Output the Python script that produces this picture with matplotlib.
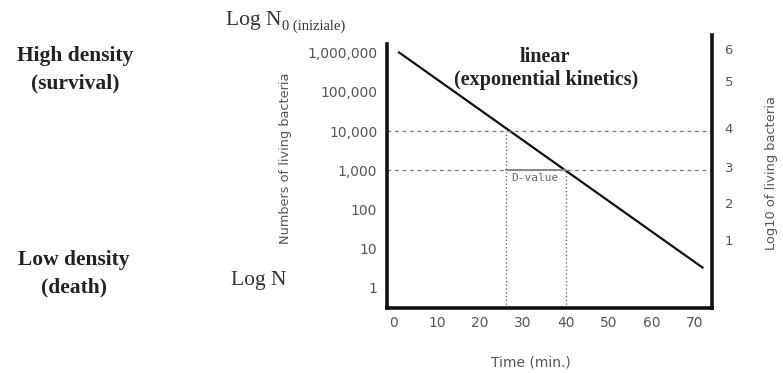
#!/usr/bin/env python3
# Survival curve of bacteria: log count vs heating time, with D-value marked
import numpy as np
import matplotlib
matplotlib.use("Agg")
import matplotlib.pyplot as plt

#------------------------------------------------------------------------------
# data
#------------------------------------------------------------------------------
time_pts = [1, 72]                      # min
count_pts = [1.05e6, 3.2]               # living bacteria
x_ticks = [0, 10, 20, 30, 40, 50, 60, 70]
y_ticks = [1, 10, 100, 1000, 10000, 100000, 1000000]
y_labels = ['1', '10', '100', '1,000', '10,000', '100,000', '1,000,000']
right_tick_pos = [10**1.22, 10**2.17, 10**3.08, 10**4.08, 10**5.28, 10**6.1]   # as drawn
right_labels = ['1', '2', '3', '4', '5', '6']
d_start, d_end = 26, 40                 # time at 10,000 and at 1,000
level_hi, level_lo = 10000, 1000

W, H = 783, 373
fig = plt.figure(figsize=(W/100, H/100), dpi=100)

def px(x, y):
    return x/W, 1 - y/H

ax = fig.add_axes([387/W, 1 - 308/H, (712-387)/W, (308-35)/H])
ax.set_yscale('log')
ax.set_xlim(-1.6, 74)
ax.set_ylim(10**-0.51, 10**6.45)

# survival line
ax.plot(time_pts, count_pts, color='#111111', lw=1.6, solid_capstyle='butt')

# dashed reference levels
for lev in [level_hi, level_lo]:
    ax.axhline(lev, color='#777777', lw=0.9, ls=(0, (3, 3)))
ax.plot([d_start, d_start], [ax.get_ylim()[0], level_hi], color='#555555', lw=0.9, ls=(0, (1, 2)))
ax.plot([d_end, d_end], [ax.get_ylim()[0], level_lo], color='#555555', lw=0.9, ls=(0, (1, 2)))
ax.plot([d_start, d_end], [level_lo, level_lo], color='#888888', lw=1.4)
ax.text((d_start + d_end)/2 - 0.3, level_lo*0.62, 'D-value', ha='center', va='center',
        fontsize=8, color='#666666', family='DejaVu Sans Mono')

# axes styling
ax.spines['top'].set_visible(False)
for s in ['left', 'right', 'bottom']:
    ax.spines[s].set_linewidth(2.6)
    ax.spines[s].set_color('#111111')
ax.spines['left'].set_bounds(10**-0.51, 10**6.22)

ax.set_xticks(x_ticks)
ax.set_xticklabels([str(t) for t in x_ticks])
ax.set_yticks(y_ticks)
ax.set_yticklabels(y_labels)
ax.minorticks_off()
ax.tick_params(axis='both', length=0, labelsize=10, labelcolor='#555555')
ax.tick_params(axis='y', pad=7)
ax.tick_params(axis='x', pad=6)

ax2 = ax.twinx()
ax2.set_yscale('log')
ax2.set_ylim(ax.get_ylim())
ax2.set_yticks(right_tick_pos)
ax2.set_yticklabels(right_labels)
ax2.minorticks_off()
ax2.tick_params(axis='y', length=0, labelsize=9.5, labelcolor='#555555', pad=9)
for s in ['top', 'left', 'bottom', 'right']:
    ax2.spines[s].set_visible(False)

# axis titles
fig.text(*px(531, 362), 'Time (min.)', ha='center', va='center', fontsize=10, color='#555555')
fig.text(*px(285, 158), 'Numbers of living bacteria', rotation=90, ha='center', va='center',
         fontsize=9.3, color='#555555')
fig.text(*px(772, 173), 'Log10 of living bacteria', rotation=90, ha='center', va='center',
         fontsize=9.4, color='#555555')

# serif annotations
serif = 'Liberation Serif'
fig.text(*px(545, 57), 'linear', ha='center', va='center', fontsize=14.5, fontweight='bold',
         family=serif, color='#222222')
fig.text(*px(546, 80), '(exponential kinetics)', ha='center', va='center', fontsize=14.5,
         fontweight='bold', family=serif, color='#222222')
fig.text(*px(75, 56), 'High density', ha='center', va='center', fontsize=15.5, fontweight='bold',
         family=serif, color='#222222')
fig.text(*px(75, 83), '(survival)', ha='center', va='center', fontsize=15.5, fontweight='bold',
         family=serif, color='#222222')
fig.text(*px(74, 260), 'Low density', ha='center', va='center', fontsize=15.5, fontweight='bold',
         family=serif, color='#222222')
fig.text(*px(74, 287), '(death)', ha='center', va='center', fontsize=15.5, fontweight='bold',
         family=serif, color='#222222')
fig.text(*px(259, 280), 'Log N', ha='center', va='center', fontsize=15.5, family=serif,
         color='#333333')
fig.text(*px(226, 20), 'Log N', ha='left', va='center', fontsize=15.5, family=serif,
         color='#333333')
fig.text(*px(282, 26), '0 (iniziale)', ha='left', va='center', fontsize=10.5, family=serif,
         color='#333333')

fig.savefig('out.png', dpi=100)
